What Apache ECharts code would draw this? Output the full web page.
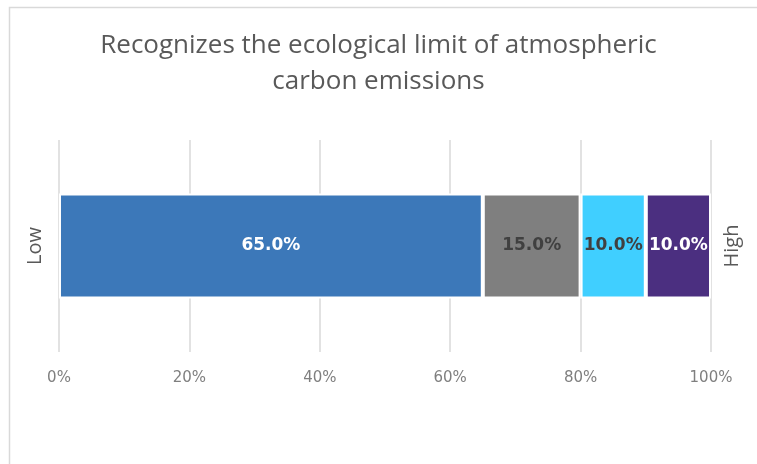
<!DOCTYPE html>
<html><head><meta charset="utf-8">
<script src="https://cdn.jsdelivr.net/npm/echarts@6/dist/echarts.min.js"></script>
<style>html,body{margin:0;padding:0;background:#fff}#c{width:757px;height:464px}</style>
</head><body><div id="c"></div>
<script>
const titleText = 'Recognizes the ecological limit of atmospheric\ncarbon emissions';
const categories = ['Rating'];
const seriesNames = ['Level 1', 'Level 2', 'Level 3', 'Level 4'];
const seriesValues = [65, 15, 10, 10];
const seriesColors = ['#3C78B9', '#7F7F7F', '#40CFFF', '#4B2F80'];
const labelColors = ['#FFFFFF', '#404040', '#404040', '#FFFFFF'];
const xTicks = [0, 20, 40, 60, 80, 100];
const leftLabel = 'Low';
const rightLabel = 'High';

const chart = echarts.init(document.getElementById('c'), null, {renderer: 'canvas'});
chart.setOption({
  animation: false,
  backgroundColor: '#fff',
  title: {
    text: titleText, left: 'center', top: 23,
    textStyle: {fontFamily: 'Open Sans', fontSize: 26, fontWeight: 'normal', color: '#595959', lineHeight: 36}
  },
  graphic: [{type: 'rect', shape: {x: 9.5, y: 7.5, width: 800, height: 500}, style: {fill: 'none', stroke: '#D9D9D9', lineWidth: 1.5}, silent: true}],
  grid: {left: 59, right: 46, top: 140, bottom: 112},
  xAxis: {
    type: 'value', min: xTicks[0], max: xTicks[xTicks.length - 1], interval: 20,
    axisLine: {show: false}, axisTick: {show: false},
    splitLine: {lineStyle: {color: '#D9D9D9', width: 1.5}},
    axisLabel: {formatter: v => v + '%', color: '#7F7F7F', fontFamily: 'DejaVu Sans', fontSize: 15, margin: 19}
  },
  yAxis: [
    {type: 'category', data: [leftLabel], axisLine: {show: false}, axisTick: {show: false},
     axisLabel: {rotate: 90, color: '#595959', fontFamily: 'Open Sans', fontSize: 20, margin: 14}},
    {type: 'category', position: 'right', data: [rightLabel], axisLine: {show: false}, axisTick: {show: false},
     axisLabel: {rotate: 90, color: '#595959', fontFamily: 'Open Sans', fontSize: 20, margin: 11}}
  ],
  series: seriesValues.map((v, i) => ({
    name: seriesNames[i], type: 'bar', stack: 'total', yAxisIndex: 0,
    data: [v], barWidth: 105,
    itemStyle: {color: seriesColors[i], borderColor: '#fff', borderWidth: 2},
    label: {show: true, position: 'inside', formatter: p => p.value.toFixed(1) + '%',
      color: labelColors[i], fontFamily: 'DejaVu Sans', fontWeight: 'bold', fontSize: 17}
  }))
});
</script></body></html>
